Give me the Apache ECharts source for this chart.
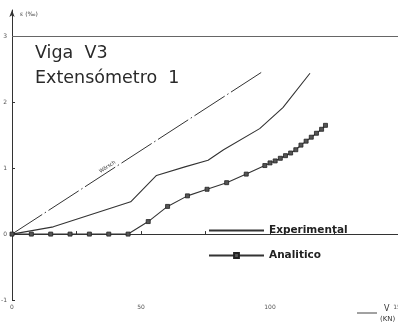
<!DOCTYPE html>
<html><head><meta charset="utf-8">
<script src="https://cdn.jsdelivr.net/npm/echarts@6/dist/echarts.min.js"></script>
<style>html,body{margin:0;padding:0;background:#fff}#c{width:398px;height:327px}</style>
</head><body><div id="c"></div>
<script>
// Data (V in kN, strain in per mille)
var worschV = [0, 97.3];
var worschE = [0, 2.47];
var expV = [0, 16, 46, 56, 67, 76, 82, 96, 105, 115.5];
var expE = [0, 0.11, 0.49, 0.89, 1.02, 1.12, 1.28, 1.6, 1.92, 2.44];
var anaV = [0, 7.5, 15, 22.5, 30, 37.5, 45, 52.8, 60.3, 68, 75.6, 83.2, 90.8, 98, 100, 102, 104, 106, 108, 110, 112, 114, 116, 118, 120, 121.5];
var anaE = [0, 0, 0, 0, 0, 0, 0, 0.19, 0.42, 0.58, 0.68, 0.78, 0.91, 1.04, 1.08, 1.11, 1.15, 1.19, 1.23, 1.28, 1.35, 1.41, 1.47, 1.53, 1.59, 1.65];
var xTickValues = [0, 25, 50, 75, 100, 125, 150];
var xLabelValues = [0, 50, 100, 150];
var yTickValues = [-1, 0, 1, 2, 3];
var titleLines = ['Viga  V3', 'Extensómetro  1'];
var legendNames = ['Experimental', 'Analitico'];

function zip(a, b) { return a.map(function (v, i) { return [v, b[i]]; }); }
var ink = '#333';
var chart = echarts.init(document.getElementById('c'));
var wEnd = [worschV[1] * 0.78, worschE[1] * 0.78];
chart.setOption({
  animation: false,
  backgroundColor: '#fff',
  textStyle: { fontFamily: 'DejaVu Sans' },
  title: [
    { text: titleLines[0], left: 30, top: 39, textStyle: { fontSize: 17.5, fontWeight: 'normal', color: '#2a2a2a', fontFamily: 'DejaVu Sans' } },
    { text: titleLines[1], left: 30, top: 64, textStyle: { fontSize: 17.5, fontWeight: 'normal', color: '#2a2a2a', fontFamily: 'DejaVu Sans' } }
  ],
  grid: { left: 12, width: 387, top: 10, bottom: 27, containLabel: false, outerBoundsMode: 'none' },
  legend: {
    data: [
      { name: legendNames[0], itemStyle: { opacity: 0 } },
      { name: legendNames[1] }
    ],
    orient: 'vertical', left: 203, top: 220, itemWidth: 55, itemHeight: 6, itemGap: 14,
    textStyle: { fontSize: 10.5, fontWeight: 'bold', color: '#222', fontFamily: 'DejaVu Sans' }
  },
  xAxis: {
    type: 'value', min: 0, max: 150, interval: 25,
    axisLine: { lineStyle: { color: ink, width: 1 } },
    axisTick: { inside: true, length: 3, lineStyle: { color: ink }, customValues: xTickValues },
    axisLabel: { customValues: xLabelValues, fontSize: 6, color: '#555', margin: 4 },
    splitLine: { show: false }
  },
  yAxis: {
    type: 'value', min: -1, max: 3.4, interval: 1,
    name: 'ε (‰)', nameLocation: 'end', nameGap: -4,
    nameTextStyle: { fontSize: 6, color: '#444', align: 'left', verticalAlign: 'middle', padding: [0, 0, 0, 8] },
    axisLine: { lineStyle: { color: ink, width: 1 }, symbol: ['none', 'arrow'], symbolSize: [4, 7] },
    axisTick: { inside: true, length: 3, lineStyle: { color: ink }, customValues: yTickValues },
    axisLabel: { customValues: yTickValues, fontSize: 6, color: '#555', margin: 5 },
    splitLine: { show: false }
  },
  series: [
    {
      name: 'Wörsch', type: 'line', data: zip(worschV, worschE), showSymbol: false, symbol: 'none',
      lineStyle: { color: ink, width: 1, type: [36, 3, 1.5, 3] }, z: 2,
      markLine: {
        silent: true, symbol: 'none',
        data: [
          [{ coord: [worschV[0], worschE[0]] }, { coord: wEnd }],
          { yAxis: 3, label: { show: false }, lineStyle: { color: '#666', width: 1, type: 'solid' } }
        ],
        lineStyle: { color: 'rgba(0,0,0,0)', width: 1, type: 'solid' },
        label: { show: true, formatter: 'Wörsch', position: 'insideMiddleTop', fontSize: 5, color: '#333', distance: 2 }
      }
    },
    {
      name: legendNames[0], type: 'line', data: zip(expV, expE), showSymbol: false, symbol: 'none',
      lineStyle: { color: ink, width: 1.1 }, itemStyle: { color: ink }, z: 3
    },
    {
      name: legendNames[1], type: 'line', data: zip(anaV, anaE), symbol: 'rect', symbolSize: 4,
      lineStyle: { color: ink, width: 1.1 }, itemStyle: { color: '#555', borderColor: '#222', borderWidth: 0.8 }, z: 4
    }
  ],
  graphic: [
    { type: 'line', shape: { x1: 357, y1: 313, x2: 377, y2: 313 }, style: { stroke: '#444', lineWidth: 1 } },
    { type: 'text', left: 384, top: 305, style: { text: 'V', fontSize: 8, fill: '#333', fontFamily: 'DejaVu Sans' } },
    { type: 'text', left: 380, top: 316, style: { text: '(KN)', fontSize: 7, fill: '#333', fontFamily: 'DejaVu Sans' } }
  ]
});
</script></body></html>
